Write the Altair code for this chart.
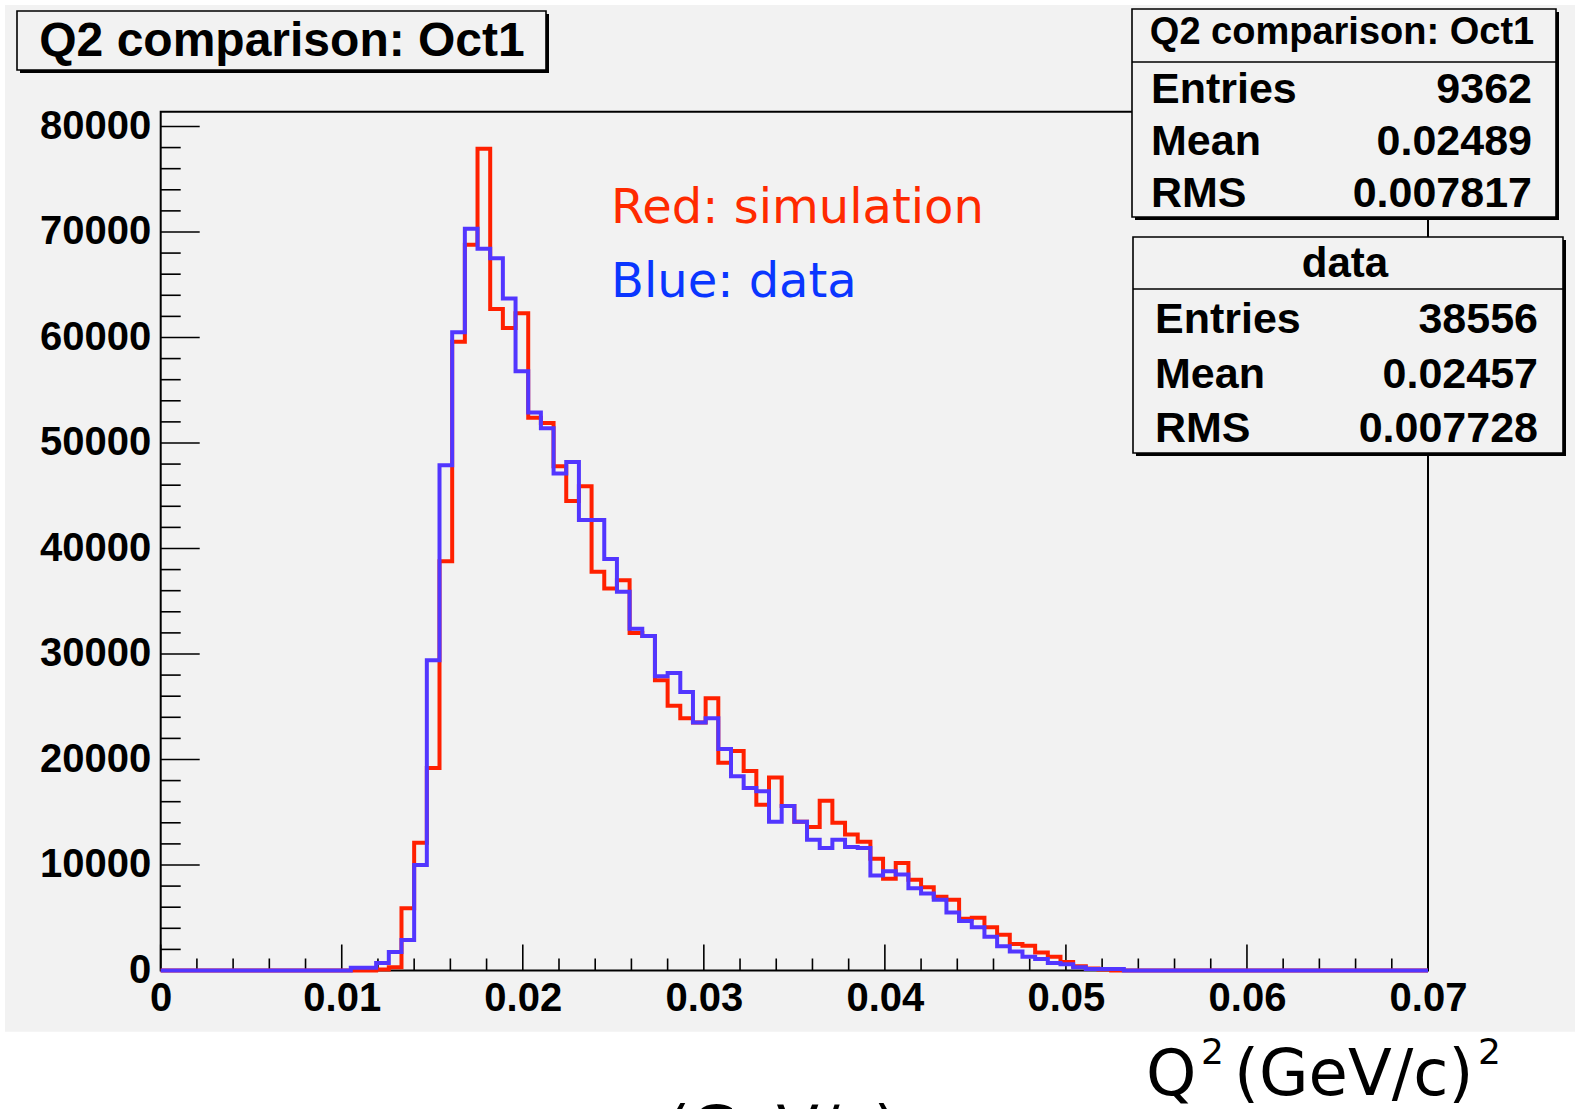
import altair as alt
import pandas as pd

# ---------------- data ----------------
BIN_WIDTH = 0.0007          # 100 bins between 0 and 0.07
X_MAX = 0.07
Y_MAX = 81400

simulation = [
    0, 0, 0, 0, 0, 0, 0, 0, 0, 0,
    0, 0, 0, 0, 0, 0, 0, 100, 300, 5900,
    12100, 19200, 38800, 59600, 68800, 77900, 62700, 60900, 62300, 52400,
    51900, 47800, 44500, 45900, 37800, 36200, 37000, 32000, 31700, 27500,
    25100, 23900, 23500, 25800, 19700, 20800, 18900, 15700, 18300, 15600,
    14100, 13600, 16100, 14000, 12900, 12200, 10600, 8700, 10200, 8600,
    7900, 7000, 6700, 4900, 5000, 4100, 3400, 2500, 2350, 1700,
    1300, 800, 400, 200, 100, 0, 0, 0, 0, 0,
    0, 0, 0, 0, 0, 0, 0, 0, 0, 0,
    0, 0, 0, 0, 0, 0, 0, 0, 0, 0,
]
data_counts = [
    0, 0, 0, 0, 0, 0, 0, 0, 0, 0,
    0, 0, 0, 0, 0, 260, 260, 700, 1750, 2900,
    10000, 29400, 47900, 60500, 70300, 68400, 67500, 63700, 56800, 52900,
    51400, 47100, 48200, 42700, 42700, 39000, 35900, 32400, 31700, 27900,
    28200, 26400, 23500, 23900, 21000, 18400, 17300, 17000, 14100, 15600,
    14100, 12400, 11600, 12400, 11700, 11600, 9000, 9400, 9100, 7800,
    7300, 6700, 5500, 4700, 4100, 3200, 2300, 1800, 1300, 1100,
    700, 600, 300, 150, 150, 150, 0, 0, 0, 0,
    0, 0, 0, 0, 0, 0, 0, 0, 0, 0,
    0, 0, 0, 0, 0, 0, 0, 0, 0, 0,
]

x_major = [0, 0.01, 0.02, 0.03, 0.04, 0.05, 0.06, 0.07]
x_minor = [0.002, 0.004, 0.006, 0.008, 0.012, 0.014, 0.016, 0.018,
           0.022, 0.024, 0.026, 0.028, 0.032, 0.034, 0.036, 0.038,
           0.042, 0.044, 0.046, 0.048, 0.052, 0.054, 0.056, 0.058,
           0.062, 0.064, 0.066, 0.068]
y_major = [0, 10000, 20000, 30000, 40000, 50000, 60000, 70000, 80000]
y_minor = [2000, 4000, 6000, 8000, 12000, 14000, 16000, 18000,
           22000, 24000, 26000, 28000, 32000, 34000, 36000, 38000,
           42000, 44000, 46000, 48000, 52000, 54000, 56000, 58000,
           62000, 64000, 66000, 68000, 72000, 74000, 76000, 78000]

title_text = "Q2 comparison: Oct1"
stats_sim = [("Entries", "9362"), ("Mean", "0.02489"), ("RMS", "0.007817")]
stats_data = [("Entries", "38556"), ("Mean", "0.02457"), ("RMS", "0.007728")]

# ---------------- layout (pixels) ----------------
OX, OY = 160.7, 111.7           # plot-area origin in the page
W, H = 1428 - OX, 970.5 - OY    # plot-area size
PAGE_W, PAGE_H = 1575, 1109
BG = "#f2f2f2"
RED = "#ff2000"
BLUE = "#5236ff"
AXFONT = "Liberation Sans"
HAND = "Comic Sans MS, DejaVu Sans"


def px(X):
    return alt.value(X - OX)


def py(Y):
    return alt.value(Y - OY)


one = alt.Data(values=[{}])

xscale = alt.Scale(domain=[0, X_MAX], nice=False, zero=False)
yscale = alt.Scale(domain=[0, Y_MAX], nice=False)

x_axis = alt.Axis(values=x_major, format="~g", title=None, ticks=False, domain=False,
                  grid=False, labelFont=AXFONT, labelFontWeight="bold", labelFontSize=40,
                  labelColor="black", labelPadding=8, labelFlush=False, labelOverlap=False)
y_axis = alt.Axis(values=y_major, format="d", title=None, ticks=False, domain=False,
                  grid=False, labelFont=AXFONT, labelFontWeight="bold", labelFontSize=40,
                  labelColor="black", labelPadding=10, labelOverlap=False)


def hist_frame(counts, name):
    xs = [round(i * BIN_WIDTH, 6) for i in range(len(counts))] + [X_MAX]
    ys = list(counts) + [counts[-1]]
    return pd.DataFrame({"q2": xs, "n": ys, "series": name})


sim_df = hist_frame(simulation, "simulation")
dat_df = hist_frame(data_counts, "data")

layers = []

# white page strips around the grey ROOT canvas
for (x1, x2, y1, y2) in [(0, PAGE_W, 1031.7, PAGE_H), (0, 5, 0, PAGE_H), (0, PAGE_W, 0, 5)]:
    layers.append(alt.Chart(one).mark_rect(fill="white").encode(
        x=px(x1), x2=px(x2), y=py(y1), y2=py(y2)))

# tick marks (drawn inward like ROOT)
layers.append(alt.Chart(pd.DataFrame({"v": y_major})).mark_rule(color="black", strokeWidth=1.6).encode(
    y=alt.Y("v:Q", scale=yscale, axis=y_axis), x=alt.value(0), x2=alt.value(39)))
layers.append(alt.Chart(pd.DataFrame({"v": y_minor})).mark_rule(color="black", strokeWidth=1.6).encode(
    y=alt.Y("v:Q", scale=yscale, axis=y_axis), x=alt.value(0), x2=alt.value(20)))
layers.append(alt.Chart(pd.DataFrame({"v": x_major})).mark_rule(color="black", strokeWidth=1.6).encode(
    x=alt.X("v:Q", scale=xscale, axis=x_axis), y=alt.value(H), y2=alt.value(H - 26)))
layers.append(alt.Chart(pd.DataFrame({"v": x_minor})).mark_rule(color="black", strokeWidth=1.6).encode(
    x=alt.X("v:Q", scale=xscale, axis=x_axis), y=alt.value(H), y2=alt.value(H - 12)))

# histograms: simulation (red) under data (blue)
for df, col in [(sim_df, RED), (dat_df, BLUE)]:
    layers.append(alt.Chart(df).mark_line(interpolate="step-after", color=col, strokeWidth=4,
                                           clip=False).encode(
        x=alt.X("q2:Q", scale=xscale, axis=x_axis),
        y=alt.Y("n:Q", scale=yscale, axis=y_axis)))


def box(x1, y1, x2, y2):
    out = []
    out.append(alt.Chart(one).mark_rect(fill="black").encode(
        x=px(x1 + 3), x2=px(x2 + 3), y=py(y1 + 3), y2=py(y2 + 3)))
    out.append(alt.Chart(one).mark_rect(fill=BG, stroke="black", strokeWidth=1.6).encode(
        x=px(x1), x2=px(x2), y=py(y1), y2=py(y2)))
    return out


def text(t, X, Y, size, align="left", weight="bold", font=AXFONT, color="black"):
    return alt.Chart(one).mark_text(text=t, align=align, baseline="alphabetic", font=font,
                                    fontSize=size, fontWeight=weight, color=color).encode(
        x=px(X), y=py(Y))


# title box
layers += box(17, 11, 546, 70)
layers.append(text(title_text, 282, 56, 48, align="center"))

# stats box: simulation
layers += box(1132, 9, 1556, 217)
layers.append(alt.Chart(one).mark_rule(color="black", strokeWidth=1.6).encode(
    x=px(1132), x2=px(1556), y=py(62)))
layers.append(text(title_text, 1342, 44, 38, align="center"))
for k, (lab, val) in enumerate(stats_sim):
    yb = 103 + k * 52
    layers.append(text(lab, 1151, yb, 43))
    layers.append(text(val, 1532, yb, 43, align="right"))

# stats box: data
layers += box(1133, 237, 1563, 453)
layers.append(alt.Chart(one).mark_rule(color="black", strokeWidth=1.6).encode(
    x=px(1133), x2=px(1563), y=py(289)))
layers.append(text("data", 1345, 277, 42, align="center"))
for k, (lab, val) in enumerate(stats_data):
    yb = 333 + k * 54.5
    layers.append(text(lab, 1155, yb, 43))
    layers.append(text(val, 1538, yb, 43, align="right"))

# hand-written style annotations
layers.append(text("Red: simulation", 611, 223, 48, weight="normal", font=HAND, color="#ff2a00"))
layers.append(text("Blue: data", 611, 297, 48, weight="normal", font=HAND, color="#0a36ff"))

# axis label below the canvas
layers.append(text("Q", 1146, 1095, 64, weight="normal", font=HAND))
layers.append(text("2", 1201, 1064, 36, weight="normal", font=HAND))
layers.append(text("(GeV/c)", 1234, 1095, 64, weight="normal", font=HAND))
layers.append(text("2", 1478, 1064, 36, weight="normal", font=HAND))
# partially visible text cut at the bottom of the page
layers.append(text("(GeV/c)", 666, 1150, 62, weight="normal", font=HAND))

chart = alt.layer(*layers).properties(
    width=W, height=H,
    padding={"left": OX, "top": OY, "right": PAGE_W - 1428, "bottom": PAGE_H - 970.5},
    autosize=alt.AutoSizeParams(type="none"),
    background=BG,
).configure_view(
    fill=BG, stroke="black", strokeWidth=2,
)

chart.save("out.html", embed_options={"renderer": "svg", "actions": False})
